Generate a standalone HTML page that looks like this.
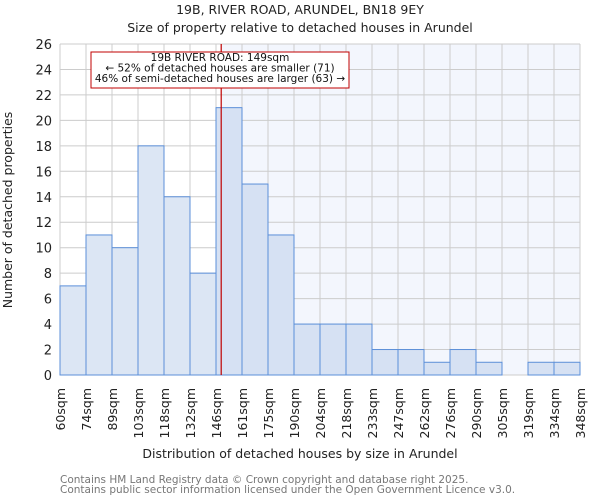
<!DOCTYPE html>
<html><head><meta charset="utf-8"><style>
body{margin:0;background:#fff;font-family:"DejaVu Sans","Liberation Sans",sans-serif}
</style></head><body>
<svg width="600" height="500" xmlns="http://www.w3.org/2000/svg" font-family="DejaVu Sans, Liberation Sans, sans-serif">
<text x="300" y="14" text-anchor="middle" font-size="12.5" fill="#222">19B, RIVER ROAD, ARUNDEL, BN18 9EY</text>
<text x="300" y="32" text-anchor="middle" font-size="12.5" fill="#222">Size of property relative to detached houses in Arundel</text>
<g id="plot"></g>
<text x="300" y="458" text-anchor="middle" font-size="12.5" fill="#222">Distribution of detached houses by size in Arundel</text>
<text transform="translate(12,210) rotate(-90)" text-anchor="middle" font-size="12.5" fill="#222">Number of detached properties</text>
<text x="60" y="483" font-size="10.5" fill="#777">Contains HM Land Registry data © Crown copyright and database right 2025.</text>
<text x="60" y="493" font-size="10.5" fill="#777">Contains public sector information licensed under the Open Government Licence v3.0.</text>
</svg>
<script>
const categories=["60sqm","74sqm","89sqm","103sqm","118sqm","132sqm","146sqm","161sqm","175sqm","190sqm","204sqm","218sqm","233sqm","247sqm","262sqm","276sqm","290sqm","305sqm","319sqm","334sqm","348sqm"];
const binStarts=[60,74,89,103,118,132,146,161,175,190,204,218,233,247,262,276,290,305,319,334,348];
const counts=[7,11,10,18,14,8,21,15,11,4,4,4,2,2,1,2,1,0,1,1];
const yTicks=[0,2,4,6,8,10,12,14,16,18,20,22,24,26];
const subjectSize=149;
const NS="http://www.w3.org/2000/svg";
const L=60,R=580,T=44,B=375,yMax=26;
const nb=counts.length,bw=(R-L)/nb;
const xi=i=>L+i*bw;
const y=v=>B-(v/yMax)*(B-T);
function xv(v){let i=0;while(i<binStarts.length-2&&v>=binStarts[i+1])i++;return xi(i)+(v-binStarts[i])/(binStarts[i+1]-binStarts[i])*bw;}
const g=document.getElementById('plot');
function mk(t,a){const e=document.createElementNS(NS,t);for(const k in a)e.setAttribute(k,a[k]);g.appendChild(e);return e;}
const sx=xv(subjectSize);
let e=mk('rect',{x:sx,y:T,width:R-sx,height:B-T,fill:'#f3f6fd'});


for(let i=0;i<=nb;i++){e=mk('line',{x1:xi(i),x2:xi(i),y1:T,y2:B,stroke:'#cccccc'});

}
yTicks.forEach(t=>{e=mk('line',{x1:L,x2:R,y1:y(t),y2:y(t),stroke:'#cccccc'});


const tx=mk('text',{x:L-8,y:y(t)+5,'text-anchor':'end','font-size':13,fill:'#222'});tx.textContent=t;

});
counts.forEach((c,i)=>{if(c<=0)return;const r=mk('rect',{x:xi(i),y:y(c),width:bw,height:B-y(c),fill:xi(i)>=sx-bw/2?'#d6e1f3':'#dce6f4',stroke:'#5b8fd9','stroke-width':1});

});
categories.forEach((c,i)=>{const tx=mk('text',{transform:`translate(${xi(i)+5},388) rotate(-90)`,'text-anchor':'end','font-size':12.5,fill:'#222'});tx.textContent=c;

});
e=mk('line',{x1:sx,x2:sx,y1:T,y2:B,stroke:'#c00000','stroke-width':1.2});


e=mk('rect',{x:91,y:52,width:258,height:36,fill:'#fff',stroke:'#c00000'});


["19B RIVER ROAD: 149sqm","← 52% of detached houses are smaller (71)","46% of semi-detached houses are larger (63) →"].forEach((s,k)=>{const tx=mk('text',{x:220,y:61+k*10.5,'text-anchor':'middle','font-size':10.5,fill:'#111'});tx.textContent=s;

});
</script>
</body></html>
